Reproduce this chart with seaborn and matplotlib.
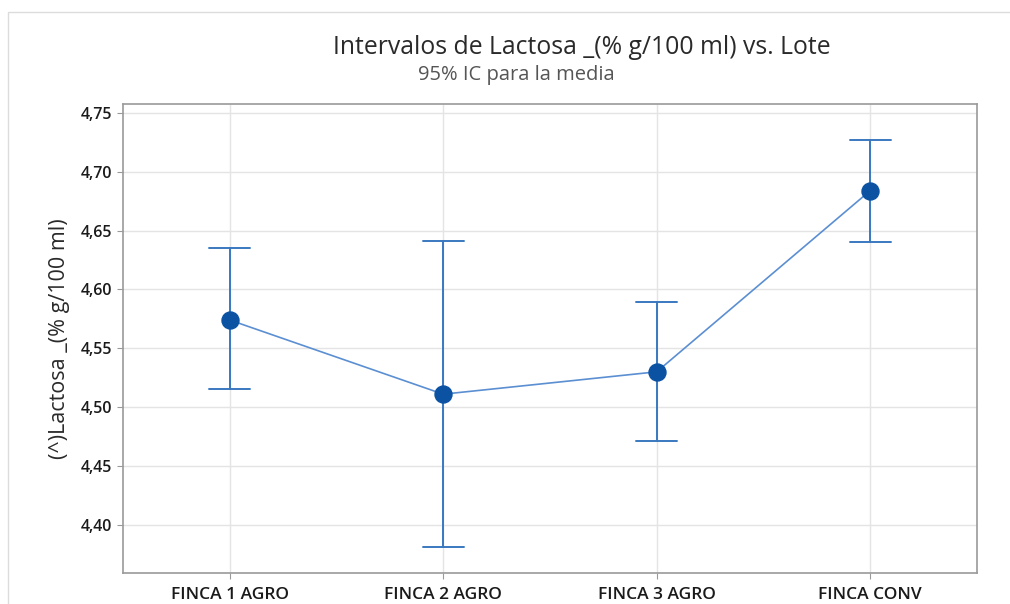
import numpy as np
import pandas as pd
import matplotlib
matplotlib.use('Agg')
import matplotlib.pyplot as plt
from matplotlib.ticker import FuncFormatter
from matplotlib.patches import Rectangle
import seaborn as sns

# values
lotes = ['FINCA 1 AGRO', 'FINCA 2 AGRO', 'FINCA 3 AGRO', 'FINCA CONV']
medias = [4.574, 4.511, 4.530, 4.684]
ic_inf = [4.515, 4.381, 4.471, 4.640]
ic_sup = [4.635, 4.641, 4.589, 4.727]

sns.set_style('white')
plt.rcParams['font.family'] = ['Open Sans', 'DejaVu Sans']

# long-form table: lower, mean, upper per lote -> median = mean, 100% range = CI
df = pd.DataFrame({
    'lote': lotes * 3,
    'valor': ic_inf + medias + ic_sup,
})
df_med = pd.DataFrame({'pos': range(len(lotes)), 'media': medias})

fig = plt.figure(figsize=(10.1, 6.04), dpi=100)
ax = fig.add_axes([0.1218, 0.0513, 0.8455, 0.7765])

# light frame around the whole figure
fig.patches.append(Rectangle((0.008, -0.01), 1.2, 0.99, transform=fig.transFigure,
                             fill=False, edgecolor='#dcdcdc', linewidth=1))

err_color = '#3a78c0'
sns.pointplot(data=df, x='lote', y='valor', order=lotes, estimator=np.median,
              errorbar=('pi', 100), capsize=0.19, color=err_color,
              linestyle='none', marker='', err_kws={'linewidth': 1.4}, ax=ax)
sns.lineplot(data=df_med, x='pos', y='media', color='#5b8fd2', linewidth=1.2, ax=ax)
sns.scatterplot(data=df_med, x='pos', y='media', color='#0b52a3', s=150,
                edgecolor='#0b52a3', zorder=5, ax=ax)

ax.set_xlim(-0.5, 3.5)
ax.set_ylim(4.359, 4.7576)
ax.set_yticks(np.arange(4.40, 4.751, 0.05))
ax.yaxis.set_major_formatter(FuncFormatter(lambda v, p: f'{v:.2f}'.replace('.', ',')))
ax.set_xticks(range(len(lotes)))
ax.set_xticklabels(lotes)

ax.grid(True, color='#e4e4e4', linewidth=1)
ax.set_axisbelow(True)
for s in ax.spines.values():
    s.set_color('#9a9a9a')
    s.set_linewidth(1.2)
ax.tick_params(axis='both', which='both', length=4, color='#9a9a9a', direction='out',
               left=True, bottom=True, labelcolor='#1a1a1a')
ax.tick_params(axis='x', labelsize=12.5, pad=6)
ax.tick_params(axis='y', labelsize=11.5)
for lab in ax.get_xticklabels() + ax.get_yticklabels():
    lab.set_fontweight('semibold')

ax.set_xlabel('')
ax.set_ylabel('(^)Lactosa _(% g/100 ml)', fontsize=15.5, color='#2a2a2a', labelpad=8)

fig.text(0.576, 0.921, 'Intervalos de Lactosa _(% g/100 ml) vs. Lote', ha='center',
         va='center', fontsize=17.8, color='#2a2a2a')
fig.text(0.511, 0.876, '95% IC para la media', ha='center', va='center',
         fontsize=14.5, color='#555555')

fig.savefig('out.png', dpi=100)
